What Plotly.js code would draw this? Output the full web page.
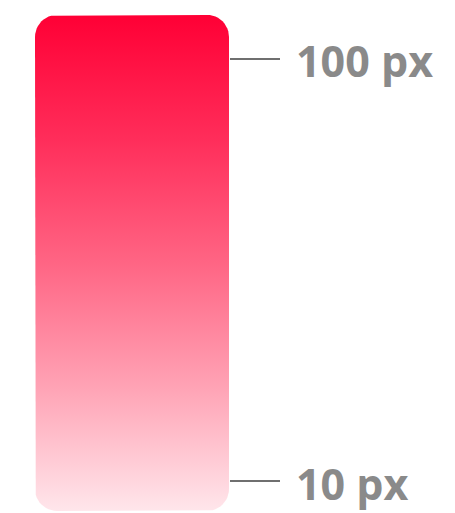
<!DOCTYPE html>
<html>
<head>
<meta charset="utf-8">
<script src="https://cdn.plot.ly/plotly-3.0.1.min.js"></script>
<style>html,body{margin:0;padding:0;background:#fff;}#chart{width:455px;height:513px;}</style>
</head>
<body>
<div id="chart"></div>
<script>
// Size legend data
const sizeValues = [10, 100];
const sizeLabels = ['10 px', '100 px'];
const scaleExtent = [3.6, 109.4];
const gradientStops = [0, 0.25, 0.5, 0.75, 1];
const gradientColors = ['#FFE6EB', '#FFA3B5', '#FF6584', '#FF2D5A', '#FF0035'];

// layout geometry
const W = 455, H = 513;
const axisRange = [3.175, 112.58];
const barLeft = 35, barRight = 229, radiusPx = 22;
const labelXShift = 66;
const labelYShift = -2;
const pxPerUnit = H / (axisRange[1] - axisRange[0]);
const ry = radiusPx / pxPerUnit;

function roundedRect(x0, x1, y0, y1, rx, ry) {
  const xs = [], ys = [];
  const corners = [
    [x1 - rx, y1 - ry, 0],
    [x0 + rx, y1 - ry, 90],
    [x0 + rx, y0 + ry, 180],
    [x1 - rx, y0 + ry, 270]
  ];
  corners.forEach(([cx, cy, a0]) => {
    for (let i = 0; i <= 12; i++) {
      const a = (a0 + i * 90 / 12) * Math.PI / 180;
      xs.push(cx + rx * Math.cos(a));
      ys.push(cy + ry * Math.sin(a));
    }
  });
  xs.push(xs[0]); ys.push(ys[0]);
  return {xs, ys};
}
const rr = roundedRect(barLeft, barRight, scaleExtent[0], scaleExtent[1], radiusPx, ry);

const trace = {
  type: 'scatter', mode: 'lines',
  x: rr.xs, y: rr.ys,
  fill: 'toself',
  line: {width: 0, color: 'rgba(0,0,0,0)'},
  fillgradient: {
    type: 'vertical',
    colorscale: gradientStops.map((s, i) => [s, gradientColors[i]])
  },
  hoverinfo: 'skip', showlegend: false
};

const annotations = sizeValues.map((v, i) => ({
  xref: 'x', yref: 'y', x: barRight, y: v,
  text: sizeLabels[i], showarrow: false,
  xanchor: 'left', yanchor: 'middle', borderpad: 0,
  xshift: labelXShift, yshift: labelYShift,
  font: {family: 'Open Sans', size: 43, color: '#8a8a8a', weight: 700}
}));

const layout = {
  width: W, height: H,
  margin: {l: 0, r: 0, t: 0, b: 0, pad: 0},
  paper_bgcolor: '#fff', plot_bgcolor: '#fff',
  xaxis: {domain: [0, barRight / W], range: [0, barRight], visible: false, fixedrange: true},
  yaxis: {
    side: 'right', range: axisRange,
    showgrid: false, zeroline: false, showline: false,
    ticks: 'outside', ticklen: 50, tickwidth: 2, tickcolor: '#6f6f6f',
    tickvals: sizeValues, showticklabels: false
  },
  annotations: annotations,
  showlegend: false
};

Plotly.newPlot('chart', [trace], layout, {displayModeBar: false, staticPlot: true});
</script>
</body>
</html>
